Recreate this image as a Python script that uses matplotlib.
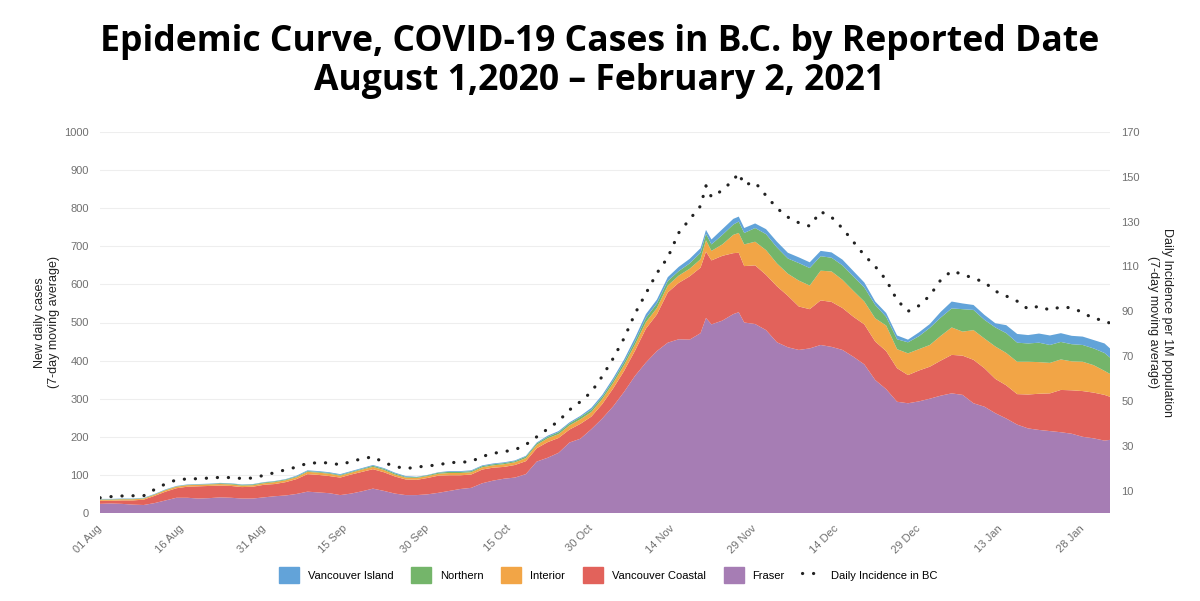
import matplotlib
matplotlib.use('Agg')
import matplotlib.dates as mdates
import pandas as pd
from matplotlib import pyplot as plt
from matplotlib.lines import Line2D
from matplotlib.patches import Patch

START = '2020-08-01'
END = '2021-02-02'

DAY_OFFSETS = [
    0, 2, 4, 6, 8, 10, 12, 14, 16, 18, 20, 22, 24, 26, 28, 30, 32, 34, 36, 38,
    40, 42, 44, 46, 48, 50, 52, 54, 56, 58, 60, 62, 64, 66, 68, 70, 72, 74, 76,
    78, 80, 82, 84, 86, 88, 90, 92, 94, 96, 98, 100, 102, 104, 106, 108, 110,
    111, 112, 114, 116, 117, 118, 120, 122, 124, 126, 128, 130, 132, 134, 136,
    138, 140, 142, 144, 146, 148, 150, 152, 154, 156, 158, 160, 162, 164, 166,
    168, 170, 172, 174, 176, 178, 180, 182, 184, 185,
]

FRASER = [
    24, 25, 24, 22, 21, 26, 33, 40, 40, 38, 39, 41, 40, 38, 38, 41, 44, 46, 50, 56,
    54, 52, 47, 51, 57, 64, 58, 51, 47, 47, 49, 53, 58, 63, 66, 78, 85, 90, 93,
    102, 135, 145, 158, 185, 195, 220, 248, 280, 318, 360, 395, 425, 447, 456, 455, 472,
    512, 495, 505, 522, 527, 500, 496, 480, 448, 435, 428, 432, 441, 436, 428,
    410, 390, 349, 325, 292, 288, 293, 300, 308, 314, 310, 288, 279, 262, 248,
    232, 222, 218, 215, 212, 208, 200, 196, 190, 192,
]
VANCOUVER_COASTAL = [
    8, 7, 9, 11, 14, 19, 23, 25, 29, 32, 32, 31, 31, 30, 31, 33, 32, 35, 39, 46,
    46, 45, 46, 50, 51, 51, 49, 45, 41, 40, 43, 45, 41, 36, 35, 36, 34, 31, 33,
    34, 35, 41, 39, 34, 39, 33, 38, 47, 55, 66, 89, 96, 132, 148, 166, 172,
    174, 168, 170, 160, 156, 148, 154, 145, 147, 135, 114, 103, 117, 118, 110,
    105, 105, 101, 100, 88, 74, 81, 84, 92, 101, 103, 114, 101, 90, 87,
    80, 89, 95, 99, 111, 114, 120, 120, 120, 113,
]
INTERIOR = [
    3, 3, 3, 3, 3, 3, 4, 4, 4, 4, 4, 4, 4, 4, 4, 4, 5, 5, 5, 6,
    6, 6, 5, 5, 6, 6, 6, 5, 5, 5, 5, 5, 6, 6, 6, 6, 6, 7, 7,
    8, 9, 10, 10, 11, 12, 12, 13, 14, 15, 16, 17, 17, 18, 19, 20, 22,
    30, 25, 30, 48, 52, 57, 62, 65, 60, 58, 68, 62, 78, 80, 74,
    68, 60, 61, 67, 50, 57, 56, 57, 65, 72, 63, 78, 78, 85, 85,
    85, 86, 83, 80, 80, 76, 77, 72, 63, 60,
]
NORTHERN = [
    1, 1, 1, 1, 1, 1, 1, 1, 1, 1, 1, 2, 2, 2, 2, 2, 2, 2, 2, 2,
    2, 2, 2, 2, 2, 3, 3, 3, 2, 2, 2, 3, 3, 3, 3, 3, 3, 3, 3,
    4, 4, 4, 5, 5, 6, 6, 6, 7, 8, 9, 11, 12, 12, 12, 14, 17,
    17, 17, 25, 27, 30, 30, 36, 42, 42, 40, 46, 46, 38, 36, 38,
    38, 37, 35, 23, 26, 29, 34, 45, 48, 50, 59, 53, 49, 50, 52,
    50, 48, 51, 47, 46, 45, 44, 44, 47, 43,
]
VANCOUVER_ISLAND = [
    1, 1, 1, 1, 1, 1, 1, 1, 1, 1, 1, 1, 1, 1, 1, 1, 1, 1, 2, 2,
    2, 2, 2, 2, 2, 2, 2, 2, 2, 1, 1, 1, 2, 2, 2, 2, 2, 2, 2,
    2, 2, 3, 3, 3, 3, 5, 5, 6, 7, 9, 10, 10, 10, 11, 12, 12,
    10, 13, 15, 15, 13, 13, 12, 13, 15, 15, 15, 15, 14, 14, 15,
    14, 13, 9, 10, 10, 7, 10, 10, 15, 18, 15, 13, 13, 11, 21,
    23, 22, 24, 25, 23, 22, 22, 22, 25, 24,
]
# daily incidence per 1M population, right axis
INCIDENCE = [
    6.8, 7.3, 7.6, 7.7, 7.7, 10.5, 13, 14.8, 15.2, 15.3, 15.6, 15.9, 15.8, 15.4,
    15.6, 16.8, 18, 19.3, 20.5, 22.2, 22.4, 22.4, 21.5, 23, 24.2, 25.1, 22.5,
    20.8, 19.8, 20.5, 21, 21.5, 22.5, 22.6, 23, 25.2, 26.6, 27.4, 28.2, 30.5,
    34, 37.5, 41, 46, 49.7, 54, 61, 69, 78, 89, 98, 107, 114, 125, 131, 137,
    146, 141, 144, 148.6, 151.6, 146.5, 147.5, 141.6, 136, 132, 129.5, 128,
    134.5, 132, 127, 121, 115, 110, 104, 95, 90, 92.5, 97, 104, 108, 106.5,
    104.7, 103, 99, 96.8, 94.5, 91, 92.3, 90.5, 92, 91.5, 89.5, 86.7, 86, 84.6,
]

REGIONS = ['Fraser', 'Vancouver Coastal', 'Interior', 'Northern', 'Vancouver Island']
COLORS = {
    'Fraser': '#a67db4',
    'Vancouver Coastal': '#e2625b',
    'Interior': '#f2a546',
    'Northern': '#74b56a',
    'Vancouver Island': '#62a3d9',
}
GREY = '#707070'
DOTS = (0, (0.05, 3.4))

plt.rcParams['font.family'] = ['Liberation Sans', 'DejaVu Sans']

dates = pd.Timestamp(START) + pd.to_timedelta(DAY_OFFSETS, unit='D')
series = [FRASER, VANCOUVER_COASTAL, INTERIOR, NORTHERN, VANCOUVER_ISLAND]

fig = plt.figure(figsize=(12, 6.01), dpi=100)
ax = fig.add_axes([100 / 1200, 88 / 601, 1010 / 1200, 381 / 601])

ax.stackplot(dates, *series, colors=[COLORS[r] for r in REGIONS],
             linewidth=0)
ax.set_ylim(0, 1000)
ax.set_yticks(range(0, 1001, 100))
ax.set_xlim(pd.Timestamp(START), pd.Timestamp(END))
ax.yaxis.grid(True, color='#eeeeee', linewidth=0.8)
ax.set_axisbelow(True)
for spine in ax.spines.values():
    spine.set_visible(False)

ticks = pd.date_range(START, END, freq='15D')
ax.set_xticks(ticks)
ax.xaxis.set_major_formatter(mdates.DateFormatter('%d %b'))
ax.tick_params(axis='both', length=0, labelsize=8, labelcolor=GREY)
ax.tick_params(axis='y', pad=8)
for label in ax.get_xticklabels():
    label.set_rotation(45)
    label.set_ha('right')
    label.set_va('center')
    label.set_rotation_mode('anchor')
ax.tick_params(axis='x', pad=10)
ax.set_ylabel('New daily cases\n(7-day moving average)', fontsize=9,
              color='#222222', labelpad=3)

ax2 = ax.twinx()
ax2.plot(dates, INCIDENCE, color='#222222', linewidth=2.3, linestyle=DOTS,
         dash_capstyle='round')
ax2.set_ylim(0, 170)
ax2.set_yticks(range(10, 171, 20))
ax2.tick_params(axis='y', length=0, labelsize=8, labelcolor=GREY, pad=8)
for spine in ax2.spines.values():
    spine.set_visible(False)
ax2.set_ylabel('Daily Incidence per 1M population\n(7-day moving average)',
               fontsize=9, color='#222222', rotation=270, labelpad=24)

fig.text(0.5, 0.898,
         'Epidemic Curve, COVID-19 Cases in B.C. by Reported Date\n'
         'August 1,2020 \u2013 February 2, 2021',
         ha='center', va='center', fontsize=25.6, fontweight='bold',
         family='Open Sans', linespacing=1.12)

handles = [Patch(color=COLORS[r]) for r in reversed(REGIONS)]
handles.append(Line2D([], [], color='#222222', linewidth=2.3, linestyle=DOTS,
                      dash_capstyle='round'))
labels = list(reversed(REGIONS)) + ['Daily Incidence in BC']
fig.legend(handles, labels, loc='center', bbox_to_anchor=(0.507, 0.043),
           ncol=6, frameon=False, fontsize=8, handlelength=1.8,
           handleheight=1.8, handletextpad=0.8, columnspacing=1.6)

fig.savefig('out.png', dpi=100)
